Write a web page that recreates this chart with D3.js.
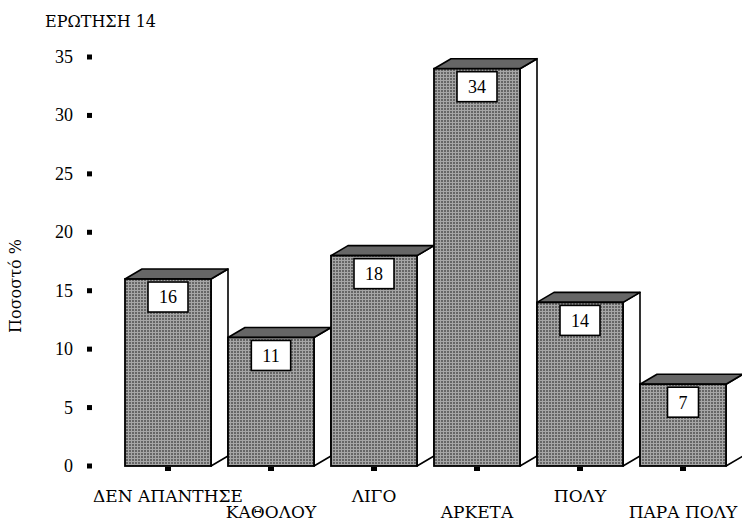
<!DOCTYPE html>
<html>
<head>
<meta charset="utf-8">
<script src="https://cdn.jsdelivr.net/npm/d3@7/dist/d3.min.js"></script>
<style>
  html, body { margin: 0; padding: 0; background: #fff; }
  svg { display: block; }
  text { fill: #000; }
</style>
</head>
<body>
<svg id="chart" width="742" height="523"></svg>
<script>
// Responses to question 14 (percent)
const categories = ["ΔΕΝ ΑΠΑΝΤΗΣΕ", "ΚΑΘΟΛΟΥ", "ΛΙΓΟ", "ΑΡΚΕΤΑ", "ΠΟΛΥ", "ΠΑΡΑ ΠΟΛΥ"];
const values = [16, 11, 18, 34, 14, 7];
const yTicks = [0, 5, 10, 15, 20, 25, 30, 35];
const title = "ΕΡΩΤΗΣΗ 14";
const yLabel = "Ποσοστό %";

// Greek text needs a face that carries Greek glyphs; digits use a Times-like face
const GREEK_FONT = '"DejaVu Serif", serif';
const NUM_FONT = '"Liberation Serif", "Times New Roman", serif';

const svg = d3.select("#chart");

const depthX = 17, depthY = 10;

const y = d3.scaleLinear().domain([0, 35]).range([466, 57]);
const x = d3.scaleBand()
  .domain(categories)
  .range([125, 726])
  .paddingInner(17 / 103)
  .paddingOuter(0);

// dithered grey fill for the bar fronts
const defs = svg.append("defs");
const pat = defs.append("pattern")
  .attr("id", "dots")
  .attr("patternUnits", "userSpaceOnUse")
  .attr("width", 3).attr("height", 3);
pat.append("rect").attr("width", 3).attr("height", 3).attr("fill", "#a6a6a6");
pat.append("rect").attr("x", 0).attr("y", 0).attr("width", 2).attr("height", 2).attr("fill", "#666");

// title
svg.append("text")
  .attr("x", 45).attr("y", 27)
  .style("font-family", GREEK_FONT)
  .style("font-size", "16px")
  .text(title);

// y-axis title
svg.append("text")
  .attr("transform", "translate(21,286) rotate(-90)")
  .attr("text-anchor", "middle")
  .style("font-family", GREEK_FONT)
  .style("font-size", "16px")
  .text(yLabel);

// y ticks: labels and small square marks
const yt = svg.append("g").selectAll("g").data(yTicks).join("g");
yt.append("text")
  .attr("x", 73)
  .attr("y", d => y(d))
  .attr("dy", "0.33em")
  .attr("text-anchor", "end")
  .style("font-family", NUM_FONT)
  .style("font-size", "18px")
  .text(d => d);
yt.append("rect")
  .attr("x", 87)
  .attr("y", d => y(d) - 2.5)
  .attr("width", 5).attr("height", 5)
  .attr("fill", "#000");

// bars
const data = categories.map((c, i) => ({ cat: c, v: values[i], i }));
const bars = svg.append("g").selectAll("g").data(data).join("g");

bars.each(function (d) {
  const g = d3.select(this);
  const x0 = x(d.cat), x1 = x0 + x.bandwidth();
  const yTop = y(d.v), yBase = y(0);
  // right side face
  g.append("path")
    .attr("d", `M${x1},${yTop} L${x1 + depthX},${yTop - depthY} L${x1 + depthX},${yBase - depthY} L${x1},${yBase} Z`)
    .attr("fill", "#fff").attr("stroke", "#000").attr("stroke-width", 1.6)
    .attr("stroke-linejoin", "round");
  // top face
  g.append("path")
    .attr("d", `M${x0},${yTop} L${x0 + depthX},${yTop - depthY} L${x1 + depthX},${yTop - depthY} L${x1},${yTop} Z`)
    .attr("fill", "#666").attr("stroke", "#000").attr("stroke-width", 1.6)
    .attr("stroke-linejoin", "round");
  // front face
  g.append("rect")
    .attr("x", x0).attr("y", yTop)
    .attr("width", x.bandwidth()).attr("height", yBase - yTop)
    .attr("fill", "url(#dots)").attr("stroke", "#000").attr("stroke-width", 1.8);
  // value label in a white box
  const cx = x0 + x.bandwidth() / 2;
  const t = g.append("text")
    .attr("x", cx).attr("y", yTop + 18)
    .attr("dy", "0.35em")
    .attr("text-anchor", "middle")
    .style("font-family", NUM_FONT)
    .style("font-size", "18px")
    .text(d.v);
  const w = t.node().getComputedTextLength() + 22;
  g.insert("rect", "text")
    .attr("x", cx - w / 2).attr("y", yTop + 3)
    .attr("width", w).attr("height", 30)
    .attr("fill", "#fff").attr("stroke", "#000").attr("stroke-width", 1.6);
  // category tick mark
  g.append("rect")
    .attr("x", cx - 3).attr("y", yBase + 1)
    .attr("width", 6).attr("height", 4)
    .attr("fill", "#000");
  // staggered category label
  g.append("text")
    .attr("x", cx)
    .attr("y", d.i % 2 === 0 ? 502 : 518)
    .attr("text-anchor", "middle")
    .style("font-family", GREEK_FONT)
    .style("font-size", "17px")
    .text(d.cat);
});
</script>
</body>
</html>
